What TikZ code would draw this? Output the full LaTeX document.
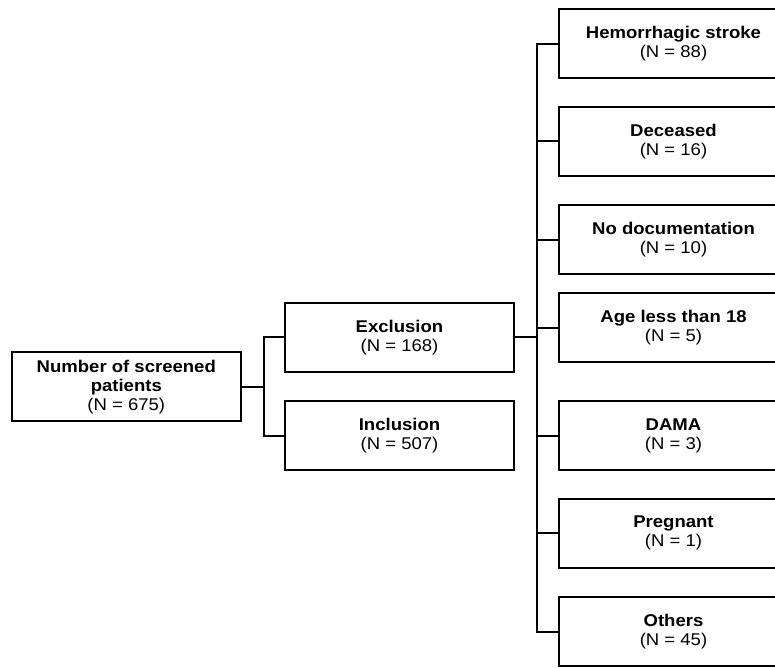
\documentclass[tikz,border=0pt]{standalone}
\usepackage{fontspec}
\setmainfont[FakeStretch=1.09]{Liberation Sans}
\tikzset{
  box/.style={draw, line width=2pt, minimum width=229pt, minimum height=69pt,
    align=center, inner sep=2pt, font=\fontsize{17}{19}\selectfont},
  link/.style={line width=2pt}
}
\begin{document}
\begin{tikzpicture}[x=1pt, y=-1pt]
  \useasboundingbox (0,0) rectangle (775,667);
  \clip (0,0) rectangle (775,667);
  \node[box] (scr) at (126.3,386.7) {\textbf{Number of screened}\\\textbf{patients}\\(N = 675)};
  \node[box] (excl) at (399.5,337.2) {\textbf{Exclusion}\\(N = 168)};
  \node[box] (incl) at (399.5,435.7) {\textbf{Inclusion}\\(N = 507)};
  \node[box] (hem) at (673.5,43.8) {\textbf{Hemorrhagic stroke}\\(N = 88)};
  \node[box] (dec) at (673.5,141.3) {\textbf{Deceased}\\(N = 16)};
  \node[box] (nodoc) at (673.5,239.5) {\textbf{No documentation}\\(N = 10)};
  \node[box] (age) at (673.5,327.5) {\textbf{Age less than 18}\\(N = 5)};
  \node[box] (dama) at (673.5,435.8) {\textbf{DAMA}\\(N = 3)};
  \node[box] (preg) at (673.5,533.3) {\textbf{Pregnant}\\(N = 1)};
  \node[box] (oth) at (673.5,631.5) {\textbf{Others}\\(N = 45)};
  % screened -> exclusion / inclusion
  \draw [link] (scr.east) -- ++(22,0) coordinate (j1);
  \draw [link] (excl.west) -| (j1);
  \draw [link] (incl.west) -| (j1);
  % exclusion -> reasons
  \draw [link] (excl.east) -- ++(22,0) coordinate (j2);
  \foreach \n in {hem,dec,nodoc,age,dama,preg,oth}
    \draw [link] (\n.west) -| (j2);
\end{tikzpicture}
\end{document}
